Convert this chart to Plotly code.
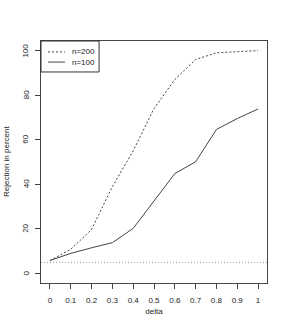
import plotly.graph_objects as go

delta = [0, 0.1, 0.2, 0.3, 0.4, 0.5, 0.6, 0.7, 0.8, 0.9, 1.0]
n200 = [5.8, 10.8, 19.7, 39.0, 55.0, 74.0, 87.0, 96.0, 99.0, 99.4, 100.0]
n100 = [5.8, 9.0, 11.5, 13.8, 20.2, 32.4, 44.8, 50.1, 64.6, 69.5, 73.8]
ref_level = 5
x_ticks = [0, 0.1, 0.2, 0.3, 0.4, 0.5, 0.6, 0.7, 0.8, 0.9, 1]
x_tick_labels = ["0", "0.1", "0.2", "0.3", "0.4", "0.5", "0.6", "0.7", "0.8", "0.9", "1"]
y_ticks = [0, 20, 40, 60, 80, 100]
series_names = ["n=200", "n=100"]
y_title = "Rejection in percent"

font = "Liberation Sans, Arial, sans-serif"
txt_col = "#222222"
line_col = "#444444"
dash200 = "2px,2px"

fig = go.Figure()
fig.add_trace(go.Scatter(x=delta, y=n200, mode="lines", name=series_names[0],
                         line=dict(color=line_col, width=1, dash=dash200)))
fig.add_trace(go.Scatter(x=delta, y=n100, mode="lines", name=series_names[1],
                         line=dict(color=line_col, width=1)))
fig.add_shape(type="line", xref="paper", x0=0, x1=1, yref="y", y0=ref_level, y1=ref_level,
              line=dict(color="#999999", width=1, dash="1px,2px"))

# manual legend box (R-style)
fig.add_shape(type="rect", xref="paper", yref="paper", x0=0, x1=0.257, y0=0.872, y1=1,
              line=dict(color="#333333", width=1), fillcolor="white", layer="above")
leg_y = [0.955, 0.913]
leg_dash = [dash200, "solid"]
for name, yy, dsh in zip(series_names, leg_y, leg_dash):
    fig.add_shape(type="line", xref="paper", yref="paper", x0=0.031, x1=0.106, y0=yy, y1=yy,
                  line=dict(color=line_col, width=1, dash=dsh), layer="above")
    fig.add_annotation(xref="paper", yref="paper", x=0.128, y=yy, text=name, showarrow=False,
                       xanchor="left", yanchor="middle", font=dict(size=8, color=txt_col))

# rotated y tick labels (R style, parallel to axis)
for v in y_ticks:
    fig.add_annotation(xref="paper", yref="y", x=0, y=v, text=str(v), showarrow=False,
                       textangle=-90, xanchor="center", yanchor="middle", xshift=-15,
                       font=dict(size=8, color=txt_col))
fig.add_annotation(xref="paper", yref="paper", x=0, y=0.5, text=y_title, showarrow=False,
                   textangle=-90, xanchor="center", yanchor="middle", xshift=-35,
                   font=dict(size=8, color=txt_col))

fig.update_layout(
    width=288, height=335,
    margin=dict(l=41, r=21, t=41, b=52),
    paper_bgcolor="white", plot_bgcolor="white",
    font=dict(family=font, size=8, color=txt_col),
    showlegend=False,
    xaxis=dict(range=[-0.043, 1.043], tickvals=x_ticks, ticktext=x_tick_labels,
               showgrid=False, zeroline=False, showline=True, linecolor="#444444",
               linewidth=1, mirror=True, ticks="outside", ticklen=5, tickcolor="#444444",
               ticklabelstandoff=4, automargin=False,
               title=dict(text="delta", font=dict(size=8), standoff=4)),
    yaxis=dict(range=[-4.3, 104.3], tickvals=y_ticks, showticklabels=False,
               showgrid=False, zeroline=False, showline=True, linecolor="#444444",
               linewidth=1, mirror=True, ticks="outside", ticklen=5, tickcolor="#444444",
               automargin=False),
)
fig.write_html("out.html", config={"displayModeBar": False},
               post_script="document.body.style.margin='0';document.body.style.padding='0';")
